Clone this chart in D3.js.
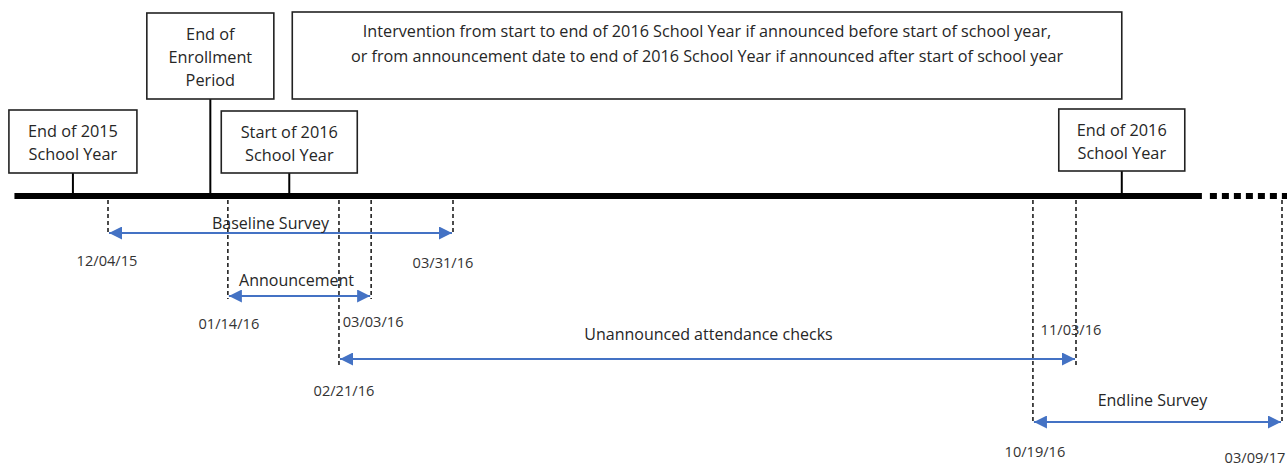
<!DOCTYPE html>
<html>
<head>
<meta charset="utf-8">
<script src="https://cdn.jsdelivr.net/npm/d3@7"></script>
<style>
html,body{margin:0;padding:0;background:#fff;}
svg{display:block;font-family:"Open Sans",sans-serif;}
</style>
</head>
<body>
<svg id="chart" width="1287" height="466"></svg>
<script>
// ---------- DATA ----------
const periods = ["Baseline Survey", "Announcement", "Unannounced attendance checks", "Endline Survey"];
const periodStart = ["2015-12-04", "2016-01-14", "2016-02-21", "2016-10-19"];
const periodEnd = ["2016-03-31", "2016-03-03", "2016-11-03", "2017-03-09"];
const startLabels = ["12/04/15", "01/14/16", "02/21/16", "10/19/16"];
const endLabels = ["03/31/16", "03/03/16", "11/03/16", "03/09/17"];

const milestones = [["End of 2015", "School Year"], ["End of", "Enrollment", "Period"], ["Start of 2016", "School Year"], ["End of 2016", "School Year"]];
const milestoneDates = ["2015-11-22", "2016-01-08", "2016-02-04", "2016-12-01"];

const interventionText = ["Intervention from start to end of 2016 School Year if announced before start of school year,",
  "or from announcement date to end of 2016 School Year if announced after start of school year"];

const timelineStart = "2015-11-02";
const timelineBreak = "2017-01-19";
const timelineEnd = "2017-03-10";

// ---------- LAYOUT ----------
const parse = d3.timeParse("%Y-%m-%d");
const x = d3.scaleTime()
  .domain([parse("2015-12-04"), parse("2016-03-31"), parse("2016-11-03"), parse("2017-03-09")])
  .range([108, 453, 1076, 1282]);
const row = d3.scalePoint().domain(periods).range([233, 422]);

const axisY = 196;
const blue = "#4472C4";
const textCol = "#262626";

// label offsets (layout only)
const periodLabelDx = [-10, -3, 1, -5];
const periodLabelDy = [-10, -16, -25, -22];
const startLabelDx = [-1, 1, 5, 2];
const startLabelDy = [27, 27, 31, 29];
const endLabelDx = [-10, 2, -5, -27];
const endLabelDy = [29, 25, -30, 35];
const lineExtra = [0, 1, 6, 0];

// milestone boxes (layout only)
const boxW = [128, 127, 136, 126];
const boxTop = [110, 13, 111, 109];
const boxH = [63, 86, 62, 62];
const lineGap = 23;

const svg = d3.select("#chart");
svg.append("marker").attr("id", "ah").attr("viewBox", "0 0 10 10")
  .attr("refX", 10).attr("refY", 5).attr("markerWidth", 7).attr("markerHeight", 6.5)
  .attr("markerUnits", "strokeWidth").attr("orient", "auto-start-reverse")
  .append("path").attr("d", "M0,0 L10,5 L0,10 Z").attr("fill", blue);

// Timeline (solid + dotted)
svg.append("line").attr("x1", x(parse(timelineStart))).attr("x2", x(parse(timelineBreak)))
  .attr("y1", axisY).attr("y2", axisY).attr("stroke", "#000").attr("stroke-width", 6);
svg.append("line").attr("x1", x(parse(timelineBreak)) + 8).attr("x2", x(parse(timelineEnd)) + 4)
  .attr("y1", axisY).attr("y2", axisY).attr("stroke", "#000").attr("stroke-width", 6)
  .attr("stroke-dasharray", "7,5");

// Milestone boxes & stems
milestones.forEach((lines, i) => {
  const cx = x(parse(milestoneDates[i]));
  const g = svg.append("g");
  g.append("line").attr("x1", cx).attr("x2", cx).attr("y1", boxTop[i] + boxH[i]).attr("y2", axisY)
    .attr("stroke", "#000").attr("stroke-width", 2);
  g.append("rect").attr("x", cx - boxW[i] / 2).attr("y", boxTop[i]).attr("width", boxW[i]).attr("height", boxH[i])
    .attr("fill", "#fff").attr("stroke", "#222").attr("stroke-width", 1.6);
  const mid = boxTop[i] + boxH[i] / 2;
  lines.forEach((t, j) => {
    g.append("text").attr("x", cx).attr("y", mid + (j - (lines.length - 1) / 2) * lineGap + 1)
      .attr("text-anchor", "middle").attr("dominant-baseline", "central")
      .attr("font-size", 16.3).attr("fill", textCol).text(t);
  });
});

// Intervention box spanning start to end of 2016 school year
{
  const x0 = x(parse(milestoneDates[2])) + 3, x1 = x(parse(milestoneDates[3]));
  svg.append("rect").attr("x", x0).attr("y", 12).attr("width", x1 - x0).attr("height", 87)
    .attr("fill", "#fff").attr("stroke", "#222").attr("stroke-width", 1.6);
  interventionText.forEach((t, j) => {
    svg.append("text").attr("x", (x0 + x1) / 2 + 0).attr("y", 31 + j * 25)
      .attr("text-anchor", "middle").attr("dominant-baseline", "central")
      .attr("font-size", 16.2).attr("fill", textCol).text(t);
  });
}

// Periods: dashed guides, arrows, labels
periods.forEach((p, i) => {
  const xs = x(parse(periodStart[i])), xe = x(parse(periodEnd[i])), y = row(p);
  [xs, xe].forEach(xx => {
    svg.append("line").attr("x1", xx).attr("x2", xx).attr("y1", axisY + 4).attr("y2", y + 2 + lineExtra[i])
      .attr("stroke", "#111").attr("stroke-width", 1.5).attr("stroke-dasharray", "4,3");
  });
  svg.append("line").attr("x1", xs + 1).attr("x2", xe - 1).attr("y1", y).attr("y2", y)
    .attr("stroke", blue).attr("stroke-width", 2)
    .attr("marker-start", "url(#ah)").attr("marker-end", "url(#ah)");
  svg.append("text").attr("x", (xs + xe) / 2 + periodLabelDx[i]).attr("y", y + periodLabelDy[i])
    .attr("text-anchor", "middle").attr("dominant-baseline", "central")
    .attr("font-size", 16).attr("fill", textCol).text(p);
  svg.append("text").attr("x", xs + startLabelDx[i]).attr("y", y + startLabelDy[i])
    .attr("text-anchor", "middle").attr("dominant-baseline", "central")
    .attr("font-size", 14.6).attr("fill", "#333").text(startLabels[i]);
  svg.append("text").attr("x", xe + endLabelDx[i]).attr("y", y + endLabelDy[i])
    .attr("text-anchor", "middle").attr("dominant-baseline", "central")
    .attr("font-size", 14.6).attr("fill", "#333").text(endLabels[i]);
});
</script>
</body>
</html>
